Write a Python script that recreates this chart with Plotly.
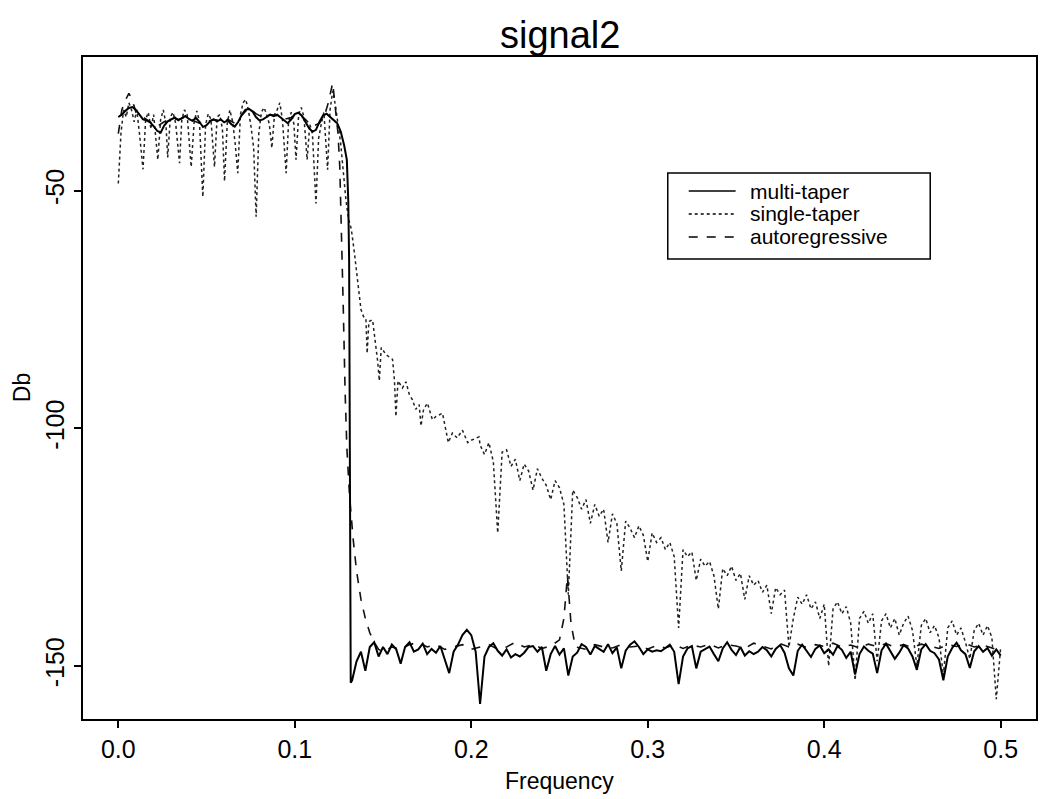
import numpy as np
import plotly.graph_objects as go

# ---------------- text ----------------
chart_title = "signal2"
x_title = "Frequency"
y_title = "Db"
x_ticks = [0.0, 0.1, 0.2, 0.3, 0.4, 0.5]
x_ticklabels = ["0.0", "0.1", "0.2", "0.3", "0.4", "0.5"]
y_ticks = [-50, -100, -150]
y_ticklabels = ["-50", "-100", "-150"]
series_names = ["multi-taper", "single-taper", "autoregressive"]

# ---------------- multi-taper (solid) ----------------
# pass band, frequencies 0.000 .. 0.128 evenly spaced
multi_band_db = [-34.5, -34.0, -33.2, -32.6, -32.4, -33.0, -34.0, -35.0, -35.2, -35.6,
                 -36.4, -37.4, -37.8, -36.3, -35.4, -35.0, -34.6, -35.2, -34.8, -34.3,
                 -34.9, -35.3, -34.7, -35.5, -36.6, -36.2, -35.4, -35.0, -35.4, -35.0,
                 -35.6, -35.2, -36.0, -36.5, -35.5, -34.0, -33.0, -32.8, -33.3, -34.5,
                 -35.2, -35.0, -34.5, -34.0, -34.3, -34.0, -34.6, -35.3, -35.8, -35.0,
                 -33.9, -33.6, -34.2, -35.5, -36.8, -37.6, -37.2, -35.5, -34.2, -33.8,
                 -34.5, -35.2, -35.8, -37.5, -40.5]
# cut-off edge (frequency, dB)
multi_edge = [(0.1295, -43.5), (0.1303, -52.0), (0.1308, -64.6), (0.1311, -95.0),
              (0.1314, -135.0), (0.1317, -153.5)]
# stop band, frequencies 0.1325 .. 0.5 evenly spaced
multi_floor_db = [-153.0, -149.0, -147.0, -151.0, -146.0, -145.0, -148.0, -146.0, -147.5, -145.5,
                  -146.5, -149.5, -146.0, -145.0, -147.0, -146.5, -145.3, -147.5, -146.4, -147.2,
                  -145.8, -148.5, -151.5, -147.0, -145.5, -143.5, -142.4, -143.5, -147.0, -158.0,
                  -148.0, -146.0, -145.2, -146.8, -147.8, -146.5, -148.2, -147.5, -148.0, -147.2,
                  -146.0, -145.8, -147.0, -146.0, -151.0, -147.5, -145.8, -147.6, -146.3, -152.0,
                  -148.0, -147.2, -145.4, -146.0, -147.6, -145.8, -146.4, -147.0, -145.4, -147.3,
                  -146.1, -150.5, -146.8, -145.5, -144.8, -146.0, -147.5, -146.5, -147.0, -146.7,
                  -146.9, -146.2, -145.5, -147.0, -153.8, -148.0, -146.3, -145.8, -150.5, -147.0,
                  -146.5, -145.9, -147.5, -149.0, -146.3, -145.0, -146.6, -147.7, -146.0, -147.8,
                  -146.9, -147.5, -147.0, -146.0, -146.7, -148.0, -146.4, -145.6, -147.2, -150.5,
                  -152.0, -146.8, -145.5, -146.9, -148.1, -146.4, -145.7, -147.3, -146.5, -147.6,
                  -145.8, -146.6, -148.3, -147.0, -151.8, -147.5, -145.9, -146.8, -147.4, -151.5,
                  -146.7, -145.3, -146.9, -148.5, -147.2, -145.6, -146.3, -148.0, -150.8, -146.5,
                  -145.4, -146.8, -147.3, -148.6, -153.0, -148.0, -146.2, -145.1, -146.7, -147.5,
                  -150.4, -146.9, -145.8, -147.0, -146.2, -147.8, -146.5, -147.8]

# ---------------- single-taper (dotted) ----------------
single_head = [(0.0000, -48.5), (0.0015, -38.0), (0.0030, -33.0), (0.0045, -34.5), (0.0060, -31.5),
               (0.0075, -33.0), (0.0090, -35.5), (0.0105, -33.0), (0.0120, -38.0), (0.0140, -45.5),
               (0.0155, -35.0), (0.0170, -33.5), (0.0185, -37.0), (0.0200, -34.0), (0.0224, -43.5),
               (0.0240, -35.0), (0.0255, -33.0), (0.0270, -36.0), (0.0280, -43.0), (0.0295, -34.5),
               (0.0310, -33.5), (0.0325, -35.8), (0.0347, -44.2), (0.0360, -35.0), (0.0375, -33.0),
               (0.0390, -34.0), (0.0413, -45.0), (0.0430, -35.5), (0.0445, -33.2), (0.0460, -35.5),
               (0.0479, -51.3), (0.0495, -36.0), (0.0510, -33.8), (0.0525, -35.0), (0.0545, -45.0),
               (0.0560, -34.5), (0.0575, -34.0), (0.0590, -37.0), (0.0602, -48.0), (0.0617, -36.0),
               (0.0632, -33.0), (0.0648, -35.5), (0.0662, -40.0), (0.0677, -46.3), (0.0692, -34.0),
               (0.0707, -31.5), (0.0722, -30.8), (0.0737, -33.0), (0.0752, -36.5), (0.0767, -41.0),
               (0.0781, -55.5), (0.0796, -38.0), (0.0811, -33.5), (0.0826, -32.5), (0.0841, -34.0),
               (0.0856, -36.0), (0.0870, -41.0), (0.0885, -34.0), (0.0900, -33.0), (0.0915, -31.5),
               (0.0930, -35.0), (0.0951, -46.3), (0.0965, -35.5), (0.0980, -33.5), (0.0995, -36.0),
               (0.1007, -43.5), (0.1022, -34.0), (0.1037, -32.5), (0.1052, -34.5), (0.1070, -43.5),
               (0.1085, -36.0), (0.1100, -38.0), (0.1120, -52.7), (0.1135, -39.0), (0.1150, -36.0),
               (0.1165, -33.5), (0.1186, -45.6), (0.1200, -33.0), (0.1215, -29.0), (0.1230, -32.0),
               (0.1245, -36.0), (0.1260, -40.0), (0.1275, -46.0), (0.1290, -52.0), (0.1305, -56.0),
               (0.1320, -58.0), (0.1337, -62.8), (0.1350, -67.0), (0.1360, -71.0), (0.1375, -75.0),
               (0.1390, -76.5), (0.1403, -76.8), (0.1410, -84.2), (0.1420, -77.5), (0.1441, -77.2),
               (0.1455, -81.0), (0.1470, -86.0), (0.1479, -90.0), (0.1490, -83.0), (0.1517, -84.5),
               (0.1535, -85.0), (0.1554, -85.5), (0.1565, -90.0), (0.1573, -97.5), (0.1585, -90.0),
               (0.1610, -91.5), (0.1630, -90.2), (0.1650, -93.0), (0.1667, -94.0), (0.1685, -96.0),
               (0.1705, -95.0), (0.1715, -99.5), (0.1730, -96.0), (0.1752, -94.7), (0.1780, -98.2),
               (0.1800, -97.5), (0.1837, -96.8), (0.1855, -100.0), (0.1870, -103.0), (0.1893, -101.0),
               (0.1920, -102.0), (0.1950, -100.4), (0.1980, -103.0), (0.2000, -102.5), (0.2044, -101.8)]
# frequencies 0.205 .. 0.5 evenly spaced
single_tail_db = [-103.5, -105.5, -103.0, -107.0, -122.0, -105.0, -104.5, -108.0, -106.5, -111.0,
                  -107.5, -109.0, -113.0, -108.5, -110.5, -112.0, -115.0, -111.0, -112.5, -116.0,
                  -135.0, -113.0, -114.5, -117.0, -115.0, -120.0, -116.0, -118.5, -117.0, -124.0,
                  -118.0, -120.0, -130.0, -119.5, -121.0, -123.0, -120.5, -122.5, -128.0, -122.0,
                  -124.0, -123.0, -125.5, -124.0, -127.0, -142.0, -125.5, -127.0, -126.0, -132.0,
                  -127.5, -129.0, -128.0, -131.0, -138.0, -129.5, -131.0, -129.0, -132.0, -130.5,
                  -136.0, -131.0, -133.0, -132.0, -134.5, -133.0, -139.0, -133.5, -135.0, -134.0,
                  -146.0, -140.0, -135.5, -137.0, -135.0, -138.0, -136.5, -140.0, -137.0, -150.0,
                  -138.0, -136.5, -139.0, -137.5, -141.0, -153.0, -140.0, -138.5, -141.0, -139.0,
                  -149.0, -140.5, -139.0, -142.0, -140.0, -143.5, -141.0, -139.5, -142.5, -150.0,
                  -141.5, -140.0, -143.0, -141.5, -144.0, -152.0, -142.0, -140.5, -143.5, -142.0,
                  -145.0, -148.5, -142.5, -141.0, -143.5, -141.5, -144.0, -157.0, -146.0]

# ---------------- autoregressive (dashed) ----------------
ar_head = [(0.000, -38.0), (0.002, -33.0), (0.004, -31.0), (0.006, -29.5), (0.008, -31.0),
           (0.010, -33.5), (0.014, -34.5), (0.018, -35.5), (0.022, -36.5), (0.026, -35.5),
           (0.030, -34.8), (0.034, -35.0), (0.038, -34.5), (0.042, -35.2), (0.046, -35.8),
           (0.050, -35.5), (0.054, -35.0), (0.058, -35.3), (0.062, -35.0), (0.066, -35.8),
           (0.070, -34.2), (0.074, -32.5), (0.078, -33.8), (0.082, -34.6), (0.086, -34.0),
           (0.090, -34.2), (0.094, -35.0), (0.098, -34.6), (0.102, -33.8), (0.106, -35.0),
           (0.110, -36.5), (0.114, -35.8), (0.117, -34.0), (0.119, -31.5), (0.1215, -27.3),
           (0.123, -32.0), (0.1245, -38.0), (0.1255, -45.0), (0.1265, -58.0), (0.1275, -75.0),
           (0.1285, -92.0), (0.1295, -104.0), (0.1310, -114.0), (0.1330, -123.0), (0.1350, -130.0),
           (0.1375, -136.0), (0.1400, -140.0), (0.1425, -143.0), (0.1450, -145.0), (0.1475, -146.5)]
ar_floor = [(0.150, -147.0), (0.155, -146.0), (0.160, -146.5), (0.165, -145.5), (0.170, -145.0),
            (0.175, -146.0), (0.180, -145.5), (0.185, -146.5), (0.190, -146.0), (0.195, -145.5),
            (0.200, -146.5), (0.205, -146.0), (0.210, -145.5), (0.215, -146.5), (0.220, -146.0),
            (0.225, -145.0), (0.230, -146.0), (0.235, -145.5), (0.240, -146.3), (0.245, -145.8),
            (0.250, -144.5), (0.2525, -140.0), (0.2545, -131.0), (0.2565, -141.0), (0.259, -146.0),
            (0.265, -146.5), (0.270, -145.5), (0.275, -146.0), (0.280, -146.2), (0.285, -145.5),
            (0.290, -146.0), (0.295, -145.8), (0.300, -146.4), (0.305, -145.7), (0.310, -146.2),
            (0.315, -145.5), (0.320, -146.3), (0.325, -145.6), (0.330, -146.0), (0.335, -145.4),
            (0.340, -146.2), (0.345, -145.5), (0.350, -145.8), (0.355, -146.3), (0.360, -145.2),
            (0.365, -145.8), (0.370, -146.4), (0.375, -145.3), (0.380, -146.0), (0.385, -145.4),
            (0.390, -146.1), (0.395, -145.5), (0.400, -145.9), (0.405, -145.2), (0.410, -146.0),
            (0.415, -145.6), (0.420, -146.2), (0.425, -145.4), (0.430, -145.9), (0.435, -145.3),
            (0.440, -146.0), (0.445, -145.5), (0.450, -146.1), (0.455, -145.4), (0.460, -145.8),
            (0.465, -146.3), (0.470, -145.5), (0.475, -145.9), (0.480, -145.3), (0.485, -146.0),
            (0.490, -145.6), (0.495, -146.2), (0.500, -146.8)]

# ---------------- assemble ----------------
multi_f = np.concatenate([np.linspace(0.0, 0.128, len(multi_band_db)),
                          [p[0] for p in multi_edge],
                          np.linspace(0.1325, 0.5, len(multi_floor_db))])
multi_y = list(multi_band_db) + [p[1] for p in multi_edge] + list(multi_floor_db)

single_f = np.concatenate([[p[0] for p in single_head],
                           np.linspace(0.205, 0.5, len(single_tail_db))])
single_y = [p[1] for p in single_head] + list(single_tail_db)

ar_pts = ar_head + ar_floor
ar_f = [p[0] for p in ar_pts]
ar_y = [p[1] for p in ar_pts]

FONT = "Liberation Sans, Arial, Helvetica, sans-serif"

fig = go.Figure()
fig.add_trace(go.Scatter(x=single_f, y=single_y, mode="lines", name=series_names[1],
                         line=dict(color="#222222", width=1.5, dash="dot")))
fig.add_trace(go.Scatter(x=ar_f, y=ar_y, mode="lines", name=series_names[2],
                         line=dict(color="#111111", width=1.6, dash="dash")))
fig.add_trace(go.Scatter(x=multi_f, y=multi_y, mode="lines", name=series_names[0],
                         line=dict(color="#000000", width=2)))

# plot area in pixels: x 83..1038, y 57..719
L, R, T, B = 83, 1038, 57, 719
W, H = R - L, B - T


def px(x):
    return (x - L) / W


def py(y):
    return (B - y) / H


axis_common = dict(showline=True, linecolor="black", linewidth=2, mirror=True,
                   ticks="outside", ticklen=7, tickwidth=1.5, tickcolor="black",
                   showgrid=False, zeroline=False,
                   tickfont=dict(family=FONT, size=25, color="black"))

fig.update_layout(
    width=1040, height=799,
    margin=dict(l=L, r=1040 - R, t=T, b=799 - B),
    plot_bgcolor="white", paper_bgcolor="white",
    showlegend=False,
    font=dict(family=FONT, color="black"),
    xaxis=dict(range=[-0.02, 0.52], tickvals=x_ticks, ticktext=x_ticklabels, **axis_common),
    yaxis=dict(range=[-161.15, -21.87], tickvals=y_ticks, ticktext=y_ticklabels,
               tickangle=-90, **axis_common),
)

annotations = [
    dict(text=chart_title, x=0.5, y=py(35), xref="paper", yref="paper", showarrow=False,
         xanchor="center", yanchor="middle", font=dict(family=FONT, size=38)),
    dict(text=x_title, x=0.5, y=py(781), xref="paper", yref="paper", showarrow=False,
         xanchor="center", yanchor="middle", font=dict(family=FONT, size=23)),
    dict(text=y_title, x=px(22), y=0.5, xref="paper", yref="paper", showarrow=False,
         xanchor="center", yanchor="middle", textangle=-90, font=dict(family=FONT, size=23)),
]
shapes = [dict(type="rect", xref="paper", yref="paper",
               x0=px(669), x1=px(932), y0=py(259), y1=py(173),
               line=dict(color="black", width=1.5), fillcolor="white", layer="above")]
legend_rows = [191, 214, 237]
legend_dash = ["solid", "dot", "dash"]
for name, row, dash in zip(series_names, legend_rows, legend_dash):
    shapes.append(dict(type="line", xref="paper", yref="paper", x0=px(690), x1=px(737),
                       y0=py(row), y1=py(row), line=dict(color="black", width=1.5, dash=dash),
                       layer="above"))
    annotations.append(dict(text=name, x=px(749), y=py(row), xref="paper", yref="paper",
                            showarrow=False, xanchor="left", yanchor="middle",
                            font=dict(family=FONT, size=21)))
fig.update_layout(annotations=annotations, shapes=shapes)

fig.write_html("out.html")
